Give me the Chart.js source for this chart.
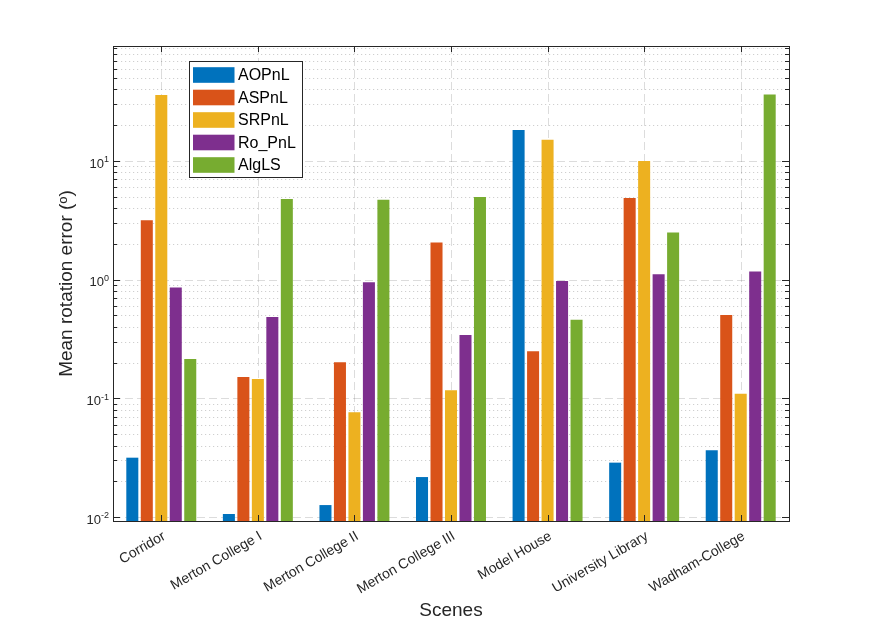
<!DOCTYPE html>
<html>
<head>
<meta charset="utf-8">
<script src="https://cdn.jsdelivr.net/npm/chart.js@4"></script>
<style>
  html, body { margin: 0; padding: 0; background: #fff; }
  #wrap { width: 872px; height: 623px; position: relative; }
</style>
</head>
<body>
<div id="wrap"><canvas id="chart"></canvas></div>
<script>
// Scenes on the x axis
const scenes = ['Corridor', 'Merton College I', 'Merton College II', 'Merton College III',
                'Model House', 'University Library', 'Wadham-College'];

// Mean rotation error per method (degrees)
const aopnl = [0.0316, 0.0106, 0.0126, 0.0217, 18.2, 0.0287, 0.0365];
const aspnl = [3.16, 0.151, 0.201, 2.05, 0.249, 4.88, 0.504];
const srpnl = [36.0, 0.1455, 0.0762, 0.117, 15.1, 10.0, 0.109];
const ropnl = [0.857, 0.484, 0.95, 0.342, 0.975, 1.11, 1.17];
const algls = [0.214, 4.78, 4.72, 4.97, 0.46, 2.49, 36.3];

const methods = ['AOPnL', 'ASPnL', 'SRPnL', 'Ro_PnL', 'AlgLS'];
const colors = ['#0072BD', '#D95319', '#EDB120', '#7E2F8E', '#77AC30'];

const yMin = 0.00925;
const yMax = 93;

const axisColor = '#262626';
const fontFamily = '"Liberation Sans", Arial, Helvetica, sans-serif';

/*
    All 1..9 x 10^k values inside the y range
*/
function logValues(scale) {
    let out = [];
    let k0 = Math.floor(Math.log10(scale.min));
    let k1 = Math.ceil(Math.log10(scale.max));
    for (let k = k0; k <= k1; k++) {
        for (let m = 1; m <= 9; m++) {
            let v = m * Math.pow(10, k);
            if (v >= scale.min && v <= scale.max) out.push({ v: v, major: m === 1, k: k });
        }
    }
    return out;
}

function crisp(p) {
    return Math.round(p) + 0.5;
}

/*
    MATLAB style box, grid, ticks, y labels and legend
*/
const frame = {
    id: 'frame',
    beforeDatasetsDraw(chart) {
        const { ctx, chartArea: a, scales: { x, y } } = chart;
        let vals = logValues(y);
        ctx.save();
        ctx.lineWidth = 1;

        // minor y grid, dotted
        ctx.strokeStyle = 'rgba(38,38,38,0.22)';
        ctx.setLineDash([1.2, 2.8]);
        vals.filter(t => !t.major).forEach(t => {
            let py = crisp(y.getPixelForValue(t.v));
            ctx.beginPath();
            ctx.moveTo(a.left, py);
            ctx.lineTo(a.right, py);
            ctx.stroke();
        });

        // major grid, dashed
        ctx.strokeStyle = 'rgba(38,38,38,0.16)';
        ctx.setLineDash([8, 4]);
        vals.filter(t => t.major).forEach(t => {
            let py = crisp(y.getPixelForValue(t.v));
            ctx.beginPath();
            ctx.moveTo(a.left, py);
            ctx.lineTo(a.right, py);
            ctx.stroke();
        });
        scenes.forEach((s, i) => {
            let px = crisp(x.getPixelForValue(i));
            ctx.beginPath();
            ctx.moveTo(px, a.top);
            ctx.lineTo(px, a.bottom);
            ctx.stroke();
        });
        ctx.restore();
    },
    afterDraw(chart) {
        const { ctx, chartArea: a, scales: { x, y } } = chart;
        let vals = logValues(y);
        ctx.save();
        ctx.setLineDash([]);
        ctx.lineWidth = 1;
        ctx.strokeStyle = axisColor;

        // box
        ctx.strokeRect(crisp(a.left), crisp(a.top), Math.round(a.right - a.left), Math.round(a.bottom - a.top));

        // y ticks on both sides
        vals.forEach(t => {
            let py = crisp(y.getPixelForValue(t.v));
            let len = t.major ? 7 : 4;
            ctx.beginPath();
            ctx.moveTo(a.left, py);
            ctx.lineTo(a.left + len, py);
            ctx.moveTo(a.right, py);
            ctx.lineTo(a.right - len, py);
            ctx.stroke();
        });

        // x ticks top and bottom
        scenes.forEach((s, i) => {
            let px = crisp(x.getPixelForValue(i));
            ctx.beginPath();
            ctx.moveTo(px, a.bottom);
            ctx.lineTo(px, a.bottom - 6);
            ctx.moveTo(px, a.top);
            ctx.lineTo(px, a.top + 6);
            ctx.stroke();
        });

        // y tick labels 10^k
        ctx.fillStyle = axisColor;
        ctx.textAlign = 'right';
        ctx.textBaseline = 'middle';
        vals.filter(t => t.major).forEach(t => {
            let py = y.getPixelForValue(t.v);
            let exp = String(t.k);
            ctx.font = '9px ' + fontFamily;
            let w = ctx.measureText(exp).width;
            ctx.fillText(exp, a.left - 4, py - 1);
            ctx.font = '13px ' + fontFamily;
            ctx.fillText('10', a.left - 4 - w, py + 3);
        });

        // legend
        let lx = 189, ly = 61, lw = 113, lh = 116;
        ctx.fillStyle = '#fff';
        ctx.fillRect(lx, ly, lw, lh);
        ctx.strokeStyle = axisColor;
        ctx.strokeRect(lx + 0.5, ly + 0.5, lw, lh);
        ctx.font = '16px ' + fontFamily;
        ctx.textAlign = 'left';
        ctx.textBaseline = 'middle';
        chart.data.datasets.forEach((ds, i) => {
            let cy = 75 + i * 22.5;
            ctx.fillStyle = ds.backgroundColor;
            ctx.fillRect(193, cy - 7.8, 41.5, 15.6);
            ctx.fillStyle = '#000';
            ctx.fillText(ds.label, 238, cy + 1);
        });
        ctx.restore();
    }
};

const series = [aopnl, aspnl, srpnl, ropnl, algls];
const datasets = series.map((values, i) => ({
    label: methods[i],
    data: values,
    backgroundColor: colors[i],
    borderWidth: 0,
    categoryPercentage: 0.75,
    barPercentage: 0.83
}));

new Chart(document.getElementById('chart').getContext('2d'), {
    type: 'bar',
    data: { labels: scenes, datasets: datasets },
    options: {
        responsive: true,
        maintainAspectRatio: false,
        animation: false,
        devicePixelRatio: 1,
        layout: { padding: { left: 0, right: 83, top: 46, bottom: 0 } },
        plugins: {
            legend: { display: false },
            tooltip: { enabled: false }
        },
        scales: {
            x: {
                type: 'category',
                offset: true,
                grid: { display: false },
                border: { display: false },
                ticks: {
                    color: axisColor,
                    font: { family: fontFamily, size: 14 },
                    minRotation: 30,
                    maxRotation: 30,
                    autoSkip: false,
                    padding: -1,
                    labelOffset: 3
                },
                title: {
                    display: true,
                    text: 'Scenes',
                    color: axisColor,
                    font: { family: fontFamily, size: 19 },
                    padding: { top: 0, bottom: 1 }
                },
                afterFit(scale) { scale.height = 102; }
            },
            y: {
                type: 'logarithmic',
                min: yMin,
                max: yMax,
                grid: { display: false },
                border: { display: false },
                ticks: { display: false },
                title: {
                    display: true,
                    text: 'Mean rotation error (ᵒ)',
                    color: axisColor,
                    font: { family: fontFamily, size: 19 },
                    padding: { top: 55, bottom: 0 }
                },
                afterFit(scale) { scale.width = 113; }
            }
        }
    },
    plugins: [frame]
});
</script>
</body>
</html>
